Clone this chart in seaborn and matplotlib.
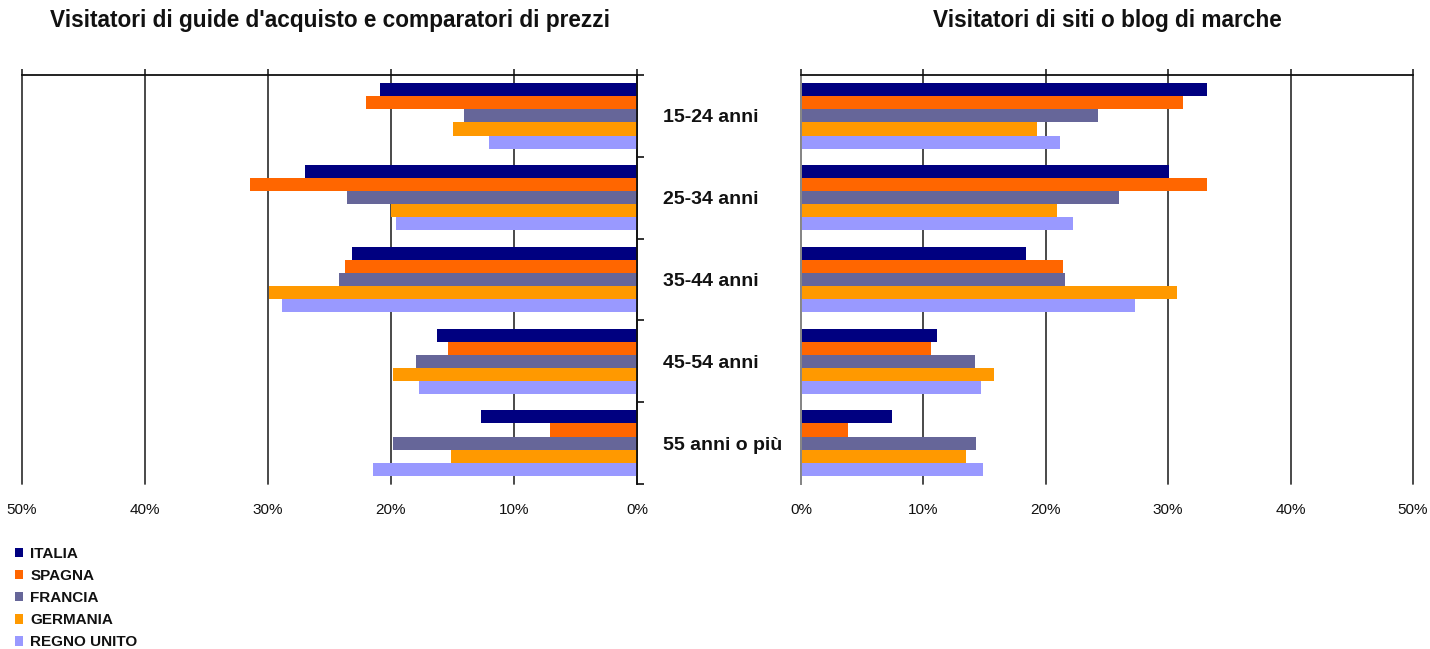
import matplotlib
matplotlib.use("Agg")
import matplotlib.pyplot as plt
from matplotlib.patches import Patch
from matplotlib.ticker import PercentFormatter, FixedLocator
import seaborn as sns
import pandas as pd

sns.set_theme(style="white")
plt.rcParams["font.family"] = ["Liberation Sans", "DejaVu Sans"]

age_groups = ["15-24 anni", "25-34 anni", "35-44 anni", "45-54 anni", "55 anni o più"]
countries = ["ITALIA", "SPAGNA", "FRANCIA", "GERMANIA", "REGNO UNITO"]
colors = ["#000080", "#FF6600", "#666699", "#FF9900", "#9999FF"]

# share of visitors (fraction) per age group, one list per country
guide_italia = [0.209, 0.270, 0.232, 0.163, 0.127]
guide_spagna = [0.220, 0.315, 0.237, 0.154, 0.071]
guide_francia = [0.141, 0.236, 0.242, 0.180, 0.198]
guide_germania = [0.150, 0.200, 0.299, 0.198, 0.151]
guide_regno_unito = [0.120, 0.196, 0.289, 0.177, 0.215]

brand_italia = [0.332, 0.301, 0.184, 0.111, 0.074]
brand_spagna = [0.312, 0.332, 0.214, 0.106, 0.038]
brand_francia = [0.243, 0.260, 0.216, 0.142, 0.143]
brand_germania = [0.193, 0.209, 0.307, 0.158, 0.135]
brand_regno_unito = [0.212, 0.222, 0.273, 0.147, 0.149]

title_left = "Visitatori di guide d'acquisto e comparatori di prezzi"
title_right = "Visitatori di siti o blog di marche"


def long_table(series):
    rows = []
    for country, values in zip(countries, series):
        for age, v in zip(age_groups, values):
            rows.append({"age": age, "country": country, "value": v})
    return pd.DataFrame(rows)


guide_df = long_table([guide_italia, guide_spagna, guide_francia,
                       guide_germania, guide_regno_unito])
brand_df = long_table([brand_italia, brand_spagna, brand_francia,
                       brand_germania, brand_regno_unito])

W, H = 1430, 649
fig = plt.figure(figsize=(W / 100, H / 100), dpi=100)
top_px, bottom_px = 75, 484
axL = fig.add_axes([22 / W, 1 - bottom_px / H, (637 - 22) / W, (bottom_px - top_px) / H])
axR = fig.add_axes([801 / W, 1 - bottom_px / H, (1413 - 801) / W, (bottom_px - top_px) / H])

grid_color = "#3a3a3a"
for ax, df in ((axL, guide_df), (axR, brand_df)):
    sns.barplot(data=df, x="value", y="age", hue="country", order=age_groups,
                hue_order=countries, palette=colors, orient="h", width=0.8,
                saturation=1, edgecolor="none", linewidth=0, legend=False, ax=ax)
    ax.set_xlabel("")
    ax.set_ylabel("")
    ax.set_ylim(len(age_groups) - 0.5, -0.5)
    ax.xaxis.set_major_locator(FixedLocator([0, 0.1, 0.2, 0.3, 0.4, 0.5]))
    ax.xaxis.set_major_formatter(PercentFormatter(xmax=1, decimals=0))
    ax.grid(axis="x", color=grid_color, linewidth=1.3)
    ax.grid(axis="y", visible=False)
    ax.set_axisbelow(True)
    for s in ax.spines.values():
        s.set_visible(False)
    ax.spines["top"].set_visible(True)
    ax.spines["top"].set_color("#111111")
    ax.spines["top"].set_linewidth(1.3)
    ax.tick_params(axis="x", which="major", top=True, bottom=False,
                   labeltop=False, labelbottom=True, direction="out",
                   length=4, width=1.2, color="#222222", pad=9.5,
                   labelsize=11, labelcolor="#111111")
    for gl in ax.get_xgridlines():
        gl.set_clip_on(False)

# left panel: reversed scale, category axis on its right edge
axL.set_xlim(0.5, 0)
axL.spines["right"].set_visible(True)
axL.spines["right"].set_color("#111111")
axL.spines["right"].set_linewidth(1.3)
axL.yaxis.tick_right()
axL.set_yticks(range(len(age_groups)))
axL.set_yticklabels(age_groups)
axL.set_yticks([i - 0.5 for i in range(len(age_groups) + 1)], minor=True)
axL.tick_params(axis="y", which="major", length=0, pad=18.7, labelsize=14,
                labelcolor="#111111")
for lab in axL.get_yticklabels():
    lab.set_fontweight("bold")
axL.tick_params(axis="y", which="minor", right=True, left=False, length=5,
                width=1.2, color="#111111", direction="out")

# right panel
axR.set_xlim(0, 0.5)
axR.set_yticks([])
axR.spines["left"].set_visible(True)
axR.spines["left"].set_color("#888888")
axR.spines["left"].set_linewidth(1.4)

fig.text((22 + 637) / 2 / W, 1 - 21 / H, title_left, ha="center", va="center",
         fontsize=16.3, fontweight="bold", color="#111111")
fig.text((801 + 1413) / 2 / W, 1 - 21 / H, title_right, ha="center", va="center",
         fontsize=16.3, fontweight="bold", color="#111111")

handles = [Patch(facecolor=c, edgecolor="none", label=n) for n, c in zip(countries, colors)]
leg = fig.legend(handles=handles, loc="upper left", bbox_to_anchor=(12 / W, 1 - 544 / H),
                 frameon=False, handlelength=0.55, handleheight=0.55, handletextpad=0.45,
                 labelspacing=0.53, borderpad=0.2, borderaxespad=0,
                 prop={"size": 11, "weight": "bold"})
for t in leg.get_texts():
    t.set_color("#111111")

fig.savefig("out.png", dpi=100, facecolor="white")
